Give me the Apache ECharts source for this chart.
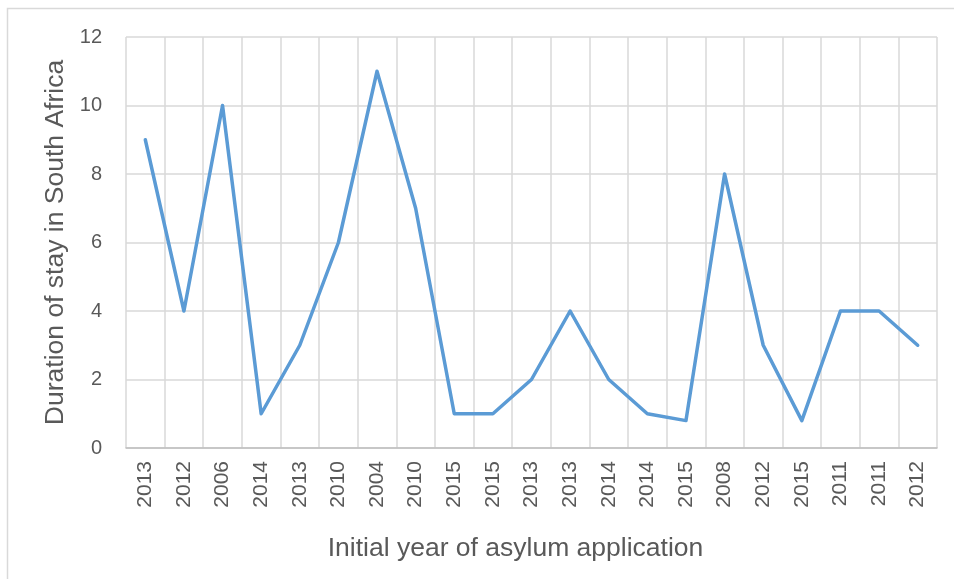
<!DOCTYPE html>
<html><head><meta charset="utf-8">
<script src="https://cdn.jsdelivr.net/npm/echarts@6/dist/echarts.min.js"></script>
<style>html,body{margin:0;padding:0;background:#fff}#c{width:954px;height:579px}</style>
</head><body><div id="c"></div>
<script>
const categories = ['2013','2012','2006','2014','2013','2010','2004','2010','2015','2015','2013','2013','2014','2014','2015','2008','2012','2015','2011','2011','2012'];
const durations = [9,4,10,1,3,6,11,7,1,1,2,4,2,1,0.8,8,3,0.8,4,4,3];
const yTicks = {min:0, max:12, interval:2};

const chart = echarts.init(document.getElementById('c'), null, {renderer:'canvas'});
chart.setOption({
  animation:false,
  graphic:[{type:'rect', shape:{x:7.5,y:8.5,width:960,height:600}, style:{fill:'none', stroke:'#d9d9d9', lineWidth:1.5}, silent:true}],
  grid:{left:126, right:17, top:37, bottom:131, containLabel:false},
  xAxis:{
    type:'category', data:categories, boundaryGap:true,
    name:'Initial year of asylum application', nameLocation:'middle', nameGap:87,
    nameTextStyle:{fontFamily:'Liberation Sans, Arial', fontSize:26.5, color:'#595959', padding:[0,32,0,0]},
    axisLine:{show:true, lineStyle:{color:'#bfbfbf', width:1.5}},
    axisTick:{show:false},
    axisLabel:{rotate:90, fontFamily:'Liberation Sans, Arial', fontSize:21, color:'#595959', margin:13, interval:0},
    splitLine:{show:true, interval:0, lineStyle:{color:'#d9d9d9', width:1.5}}
  },
  yAxis:{
    type:'value', min:yTicks.min, max:yTicks.max, interval:yTicks.interval,
    name:'Duration of stay in South Africa', nameLocation:'middle', nameGap:56,
    nameTextStyle:{fontFamily:'Liberation Sans, Arial', fontSize:26.5, color:'#595959'},
    axisLine:{show:false}, axisTick:{show:false},
    axisLabel:{fontFamily:'Liberation Sans, Arial', fontSize:20, color:'#595959', margin:24},
    splitLine:{show:true, lineStyle:{color:'#d9d9d9', width:1.5}}
  },
  series:[{type:'line', data:durations, symbol:'none', lineStyle:{color:'#5b9bd5', width:3.5, cap:'round', join:'round'}}]
});
</script></body></html>
